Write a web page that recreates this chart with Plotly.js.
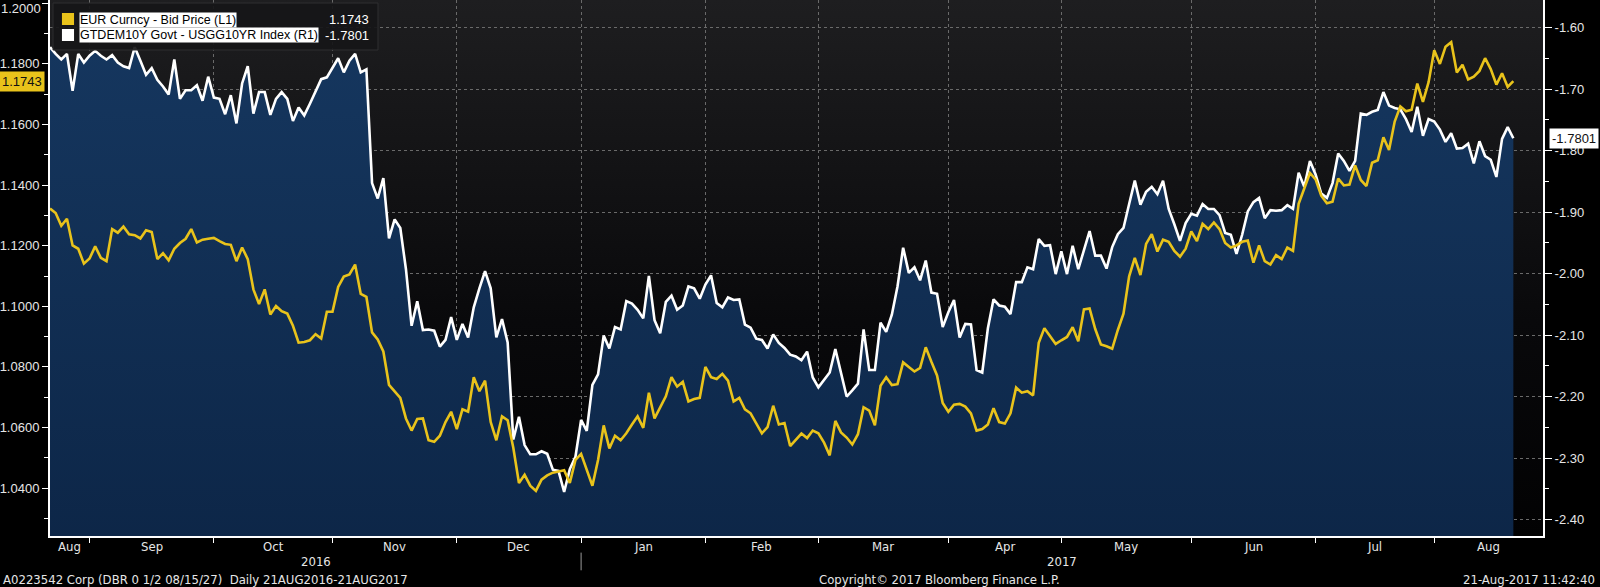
<!DOCTYPE html>
<html>
<head>
<meta charset="utf-8">
<script src="https://cdn.plot.ly/plotly-3.0.1.min.js"></script>
<style>
  html, body { margin: 0; padding: 0; background: #000; }
  #chart { width: 1600px; height: 587px; }
</style>
</head>
<body>
<div id="chart"></div>
<script>
// daily closes, one value per weekday starting 23-Aug-2016
const startDate = "2016-08-23";

const eurUsd = [
  1.1323, 1.1308, 1.1266, 1.1289, 1.1201, 1.1190, 1.1141, 1.1158, 1.1198, 1.1160,
  1.1149, 1.1255, 1.1243, 1.1263, 1.1238, 1.1235, 1.1224, 1.1251, 1.1245, 1.1156,
  1.1175, 1.1152, 1.1190, 1.1209, 1.1223, 1.1255, 1.1211, 1.1220, 1.1223, 1.1226,
  1.1215, 1.1206, 1.1203, 1.1149, 1.1194, 1.1156, 1.1056, 1.1008, 1.1056, 1.0973,
  1.1001, 1.0984, 1.0976, 1.0936, 1.0880, 1.0882, 1.0888, 1.0908, 1.0894, 1.0982,
  1.0982, 1.1064, 1.1098, 1.1105, 1.1138, 1.1041, 1.1031, 1.0914, 1.0891, 1.0851,
  1.0741, 1.0720, 1.0698, 1.0630, 1.0590, 1.0628, 1.0630, 1.0558, 1.0553, 1.0573,
  1.0618, 1.0652, 1.0595, 1.0660, 1.0652, 1.0766, 1.0720, 1.0755, 1.0618, 1.0558,
  1.0637, 1.0624, 1.0533, 1.0417, 1.0444, 1.0408, 1.0391, 1.0428, 1.0442, 1.0451,
  1.0456, 1.0459, 1.0417, 1.0493, 1.0513, 1.0459, 1.0408, 1.0493, 1.0607, 1.0531,
  1.0573, 1.0558, 1.0581, 1.0610, 1.0637, 1.0599, 1.0715, 1.0630, 1.0664, 1.0703,
  1.0766, 1.0735, 1.0751, 1.0686, 1.0694, 1.0698, 1.0800, 1.0766, 1.0760, 1.0777,
  1.0755, 1.0686, 1.0698, 1.0660, 1.0647, 1.0615, 1.0581, 1.0601, 1.0672, 1.0610,
  1.0615, 1.0539, 1.0561, 1.0580, 1.0565, 1.0590, 1.0581, 1.0550, 1.0508, 1.0622,
  1.0584, 1.0567, 1.0544, 1.0578, 1.0667, 1.0656, 1.0607, 1.0738, 1.0766, 1.0740,
  1.0743, 1.0815, 1.0800, 1.0785, 1.0797, 1.0865, 1.0817, 1.0772, 1.0681, 1.0652,
  1.0675, 1.0678, 1.0669, 1.0647, 1.0590, 1.0595, 1.0610, 1.0664, 1.0618, 1.0613,
  1.0647, 1.0732, 1.0715, 1.0720, 1.0706, 1.0880, 1.0928, 1.0902, 1.0876, 1.0888,
  1.0899, 1.0931, 1.0885, 1.0990, 1.0993, 1.0925, 1.0874, 1.0868, 1.0860, 1.0922,
  1.0976, 1.1099, 1.1160, 1.1103, 1.1206, 1.1238, 1.1181, 1.1220, 1.1213, 1.1183,
  1.1164, 1.1190, 1.1247, 1.1215, 1.1272, 1.1255, 1.1277, 1.1255, 1.1209, 1.1194,
  1.1201, 1.1213, 1.1217, 1.1144, 1.1201, 1.1149, 1.1138, 1.1169, 1.1156, 1.1194,
  1.1183, 1.1338, 1.1388, 1.1440, 1.1419, 1.1365, 1.1340, 1.1345, 1.1422, 1.1399,
  1.1402, 1.1465, 1.1417, 1.1397, 1.1474, 1.1482, 1.1558, 1.1516, 1.1610, 1.1660,
  1.1644, 1.1649, 1.1735, 1.1675, 1.1740, 1.1845, 1.1800, 1.1857, 1.1872, 1.1772,
  1.1797, 1.1749, 1.1758, 1.1777, 1.1819, 1.1783, 1.1732, 1.1769, 1.1724, 1.1743
];

const bundUstSpread = [
  -1.632, -1.643, -1.652, -1.643, -1.703, -1.643, -1.657, -1.646, -1.638, -1.646,
  -1.652, -1.645, -1.657, -1.663, -1.666, -1.632, -1.654, -1.677, -1.666, -1.685,
  -1.696, -1.709, -1.652, -1.716, -1.702, -1.702, -1.694, -1.719, -1.680, -1.714,
  -1.716, -1.741, -1.710, -1.756, -1.691, -1.663, -1.740, -1.705, -1.705, -1.742,
  -1.716, -1.705, -1.716, -1.752, -1.730, -1.743, -1.724, -1.705, -1.684, -1.681,
  -1.666, -1.650, -1.673, -1.654, -1.643, -1.673, -1.668, -1.853, -1.878, -1.845,
  -1.943, -1.912, -1.926, -1.993, -2.085, -2.045, -2.092, -2.091, -2.093, -2.119,
  -2.108, -2.071, -2.108, -2.082, -2.104, -2.055, -2.024, -1.996, -2.024, -2.104,
  -2.074, -2.112, -2.270, -2.233, -2.279, -2.294, -2.294, -2.289, -2.293, -2.319,
  -2.321, -2.355, -2.318, -2.298, -2.238, -2.256, -2.181, -2.164, -2.101, -2.122,
  -2.087, -2.091, -2.045, -2.049, -2.059, -2.073, -2.004, -2.076, -2.097, -2.046,
  -2.036, -2.059, -2.052, -2.021, -2.024, -2.041, -2.018, -2.003, -2.048, -2.055,
  -2.039, -2.043, -2.042, -2.083, -2.088, -2.106, -2.108, -2.122, -2.099, -2.113,
  -2.121, -2.132, -2.135, -2.141, -2.127, -2.169, -2.185, -2.172, -2.161, -2.123,
  -2.162, -2.200, -2.190, -2.179, -2.091, -2.157, -2.157, -2.080, -2.095, -2.067,
  -2.021, -1.958, -1.999, -1.990, -2.011, -1.979, -2.031, -2.033, -2.087, -2.063,
  -2.043, -2.104, -2.082, -2.083, -2.157, -2.161, -2.089, -2.042, -2.052, -2.054,
  -2.066, -2.014, -2.014, -1.990, -1.993, -1.944, -1.955, -1.954, -2.001, -1.964,
  -2.001, -1.955, -1.993, -1.962, -1.931, -1.971, -1.971, -1.992, -1.957, -1.936,
  -1.926, -1.887, -1.849, -1.888, -1.867, -1.859, -1.871, -1.849, -1.895, -1.920,
  -1.947, -1.918, -1.903, -1.906, -1.887, -1.895, -1.895, -1.905, -1.934, -1.937,
  -1.968, -1.937, -1.899, -1.884, -1.877, -1.910, -1.897, -1.898, -1.897, -1.889,
  -1.895, -1.836, -1.859, -1.817, -1.839, -1.870, -1.877, -1.853, -1.805, -1.817,
  -1.833, -1.817, -1.740, -1.742, -1.737, -1.734, -1.705, -1.727, -1.731, -1.733,
  -1.749, -1.770, -1.729, -1.776, -1.749, -1.753, -1.766, -1.786, -1.772, -1.797,
  -1.796, -1.789, -1.821, -1.785, -1.809, -1.815, -1.843, -1.781, -1.762, -1.7801
];

const leftTicks = [1.04, 1.06, 1.08, 1.10, 1.12, 1.14, 1.16, 1.18, 1.20];
const rightTicks = [-2.40, -2.30, -2.20, -2.10, -2.00, -1.90, -1.80, -1.70, -1.60];
const monthNames = ["Jan", "Feb", "Mar", "Apr", "May", "Jun", "Jul", "Aug", "Sep", "Oct", "Nov", "Dec"];

const eurName = "EUR Curncy - Bid Price (L1)";
const spreadName = "GTDEM10Y Govt - USGG10YR Index (R1)";
const footLeft = "A0223542 Corp (DBR 0 1/2 08/15/27)  Daily 21AUG2016-21AUG2017";
const footMid = "Copyright\u00a9 2017 Bloomberg Finance L.P.";
const footRight = "21-Aug-2017 11:42:40";

const rangeEnd = 264.25; // a few empty weekdays after the last close

const YELLOW = "#e9c31b";
const NARROW = "'DejaVu Sans Condensed', 'Liberation Sans', sans-serif";
const SANS = "'Liberation Sans', Arial, sans-serif";
const PLOT_H = 536;

function tradingDays(start, n) {
  const out = [];
  const d = new Date(start + "T00:00:00Z");
  while (out.length < n) {
    const wd = d.getUTCDay();
    if (wd !== 0 && wd !== 6) out.push(d.toISOString().slice(0, 10));
    d.setUTCDate(d.getUTCDate() + 1);
  }
  return out;
}

// enough weekdays to cover the empty space at the right edge too
const allDays = tradingDays(startDate, Math.ceil(rangeEnd) + 2);
const dates = allDays.slice(0, eurUsd.length);

// fractional weekday index -> date string
function idxToX(f) {
  const i = Math.floor(f);
  const base = new Date(allDays[i] + "T00:00:00Z").getTime();
  const t = new Date(base + (f - i) * 86400000);
  return t.toISOString().slice(0, 19).replace("T", " ");
}

const monthStarts = [];
for (let i = 1; i < allDays.length; i++) {
  if (i <= rangeEnd && allDays[i].slice(0, 7) !== allDays[i - 1].slice(0, 7)) monthStarts.push(i);
}
const bounds = [0, ...monthStarts, rangeEnd];

const annotations = [];
for (let k = 0; k < bounds.length - 1; k++) {
  const mid = (bounds[k] + bounds[k + 1]) / 2;
  const m = parseInt(allDays[bounds[k]].slice(5, 7), 10) - 1;
  annotations.push({
    x: idxToX(mid), xref: "x", y: -0.019, yref: "paper", yanchor: "middle",
    text: monthNames[m], showarrow: false,
    font: { family: NARROW, size: 13, color: "#e6e6e6" }
  });
}

const janIdx = monthStarts.find((i) => allDays[i].slice(5, 7) === "01");
[[0, janIdx, "2016"], [janIdx, rangeEnd, "2017"]].forEach(([a, b, label]) => {
  annotations.push({
    x: idxToX((a + b) / 2), xref: "x", y: -0.047, yref: "paper", yanchor: "middle",
    text: label, showarrow: false,
    font: { family: NARROW, size: 13, color: "#e6e6e6" }
  });
});

// footer
annotations.push(
  { x: -0.033, xref: "paper", xanchor: "left", y: -0.081, yref: "paper", yanchor: "middle",
    text: footLeft, showarrow: false, font: { family: NARROW, size: 13, color: "#e6e6e6" } },
  { x: 0.514, xref: "paper", xanchor: "left", y: -0.081, yref: "paper", yanchor: "middle",
    text: footMid, showarrow: false, font: { family: NARROW, size: 13, color: "#e6e6e6" } },
  { x: 1.036, xref: "paper", xanchor: "right", y: -0.081, yref: "paper", yanchor: "middle",
    text: footRight, showarrow: false, font: { family: NARROW, size: 13, color: "#e6e6e6" } }
);

// top tick label of the left axis sits just inside the figure edge
annotations.push({
  x: 0, xref: "paper", xanchor: "right", xshift: -7, y: 1 - 8 / PLOT_H, yref: "paper", yanchor: "middle",
  text: leftTicks[leftTicks.length - 1].toFixed(4), showarrow: false,
  font: { family: SANS, size: 13, color: "#e6e6e6" }
});

// legend box texts
const lastEur = eurUsd[eurUsd.length - 1];
const lastSpread = bundUstSpread[bundUstSpread.length - 1];
annotations.push(
  { x: 0.0194, xref: "paper", xanchor: "left", y: 0.9627, yref: "paper", yanchor: "middle",
    text: eurName, showarrow: false, bgcolor: "#ffffff", borderpad: 0,
    font: { family: SANS, size: 12.5, color: "#000000" } },
  { x: 0.0194, xref: "paper", xanchor: "left", y: 0.9347, yref: "paper", yanchor: "middle",
    text: spreadName, showarrow: false, bgcolor: "#ffffff", borderpad: 0,
    font: { family: SANS, size: 12.5, color: "#000000" } },
  { x: 0.215, xref: "paper", xanchor: "right", y: 0.9627, yref: "paper", yanchor: "middle",
    text: lastEur.toFixed(4), showarrow: false,
    font: { family: SANS, size: 13, color: "#ffffff" } },
  { x: 0.215, xref: "paper", xanchor: "right", y: 0.9347, yref: "paper", yanchor: "middle",
    text: lastSpread.toFixed(4), showarrow: false,
    font: { family: SANS, size: 13, color: "#ffffff" } }
);

// last value tags on the axes
annotations.push(
  { x: 0, xref: "paper", xanchor: "right", xshift: -5, y: lastEur, yref: "y2", yanchor: "middle",
    text: lastEur.toFixed(4), showarrow: false, bgcolor: YELLOW, borderpad: 2,
    font: { family: SANS, size: 13, color: "#111" } },
  { x: 1, xref: "paper", xanchor: "left", xshift: 6, y: lastSpread, yref: "y", yanchor: "middle",
    text: lastSpread.toFixed(4), showarrow: false, bgcolor: "#ffffff", borderpad: 2,
    font: { family: SANS, size: 13, color: "#111" } }
);

const shapes = [
  { type: "rect", xref: "paper", yref: "paper", x0: 0.002, x1: 0.2197, y0: 0.9067, y1: 0.9944,
    fillcolor: "rgba(22,22,24,0.92)", line: { color: "#2e2e30", width: 1 } },
  { type: "rect", xref: "paper", yref: "paper", x0: 0.0080, x1: 0.0161, y0: 0.9534, y1: 0.9757,
    fillcolor: YELLOW, line: { width: 0 } },
  { type: "rect", xref: "paper", yref: "paper", x0: 0.0080, x1: 0.0161, y0: 0.9235, y1: 0.9459,
    fillcolor: "#ffffff", line: { width: 0 } },
  { type: "line", xref: "x", yref: "paper", x0: allDays[janIdx], x1: allDays[janIdx],
    y0: -0.031, y1: -0.064, line: { color: "#9a9a9a", width: 1 } }
];

// dark grey to black backdrop behind the plot
const bgSvg =
  "<svg xmlns='http://www.w3.org/2000/svg' width='10' height='100' preserveAspectRatio='none'>" +
  "<defs><linearGradient id='g' x1='0' y1='0' x2='0' y2='1'>" +
  "<stop offset='0' stop-color='#1e1e20'/><stop offset='0.6' stop-color='#09090b'/>" +
  "<stop offset='1' stop-color='#020203'/></linearGradient></defs>" +
  "<rect width='10' height='100' fill='url(#g)'/></svg>";

const floorTrace = {
  x: dates, y: dates.map(() => -3), yaxis: "y",
  mode: "lines", line: { width: 0 }, hoverinfo: "skip", showlegend: false
};

const spreadTrace = {
  x: dates, y: bundUstSpread, yaxis: "y", name: spreadName,
  mode: "lines", line: { color: "#ffffff", width: 2.6 },
  fill: "tonexty",
  fillgradient: { type: "vertical", colorscale: [[0, "#071b38"], [1, "#15365e"]] },
  showlegend: false
};

const eurTrace = {
  x: dates, y: eurUsd, yaxis: "y2", name: eurName,
  mode: "lines", line: { color: YELLOW, width: 2.6 },
  showlegend: false
};

const layout = {
  width: 1600, height: 587,
  margin: { l: 50, r: 57, t: 0, b: 51 },
  paper_bgcolor: "#000000",
  plot_bgcolor: "#0c0c0e",
  showlegend: false,
  images: [{
    source: "data:image/svg+xml;charset=utf-8," + encodeURIComponent(bgSvg),
    xref: "paper", yref: "paper", x: 0, y: 1, sizex: 1, sizey: 1,
    xanchor: "left", yanchor: "top", sizing: "stretch", layer: "below"
  }],
  xaxis: {
    type: "date",
    range: [startDate, idxToX(rangeEnd)],
    rangebreaks: [{ bounds: ["sat", "mon"] }],
    tickvals: monthStarts.map((i) => allDays[i]),
    showticklabels: false,
    ticks: "outside", ticklen: 5, tickcolor: "#ffffff",
    showgrid: true, gridcolor: "#6a6a6a", griddash: "dot", gridwidth: 1,
    showline: true, linecolor: "#ffffff", linewidth: 2,
    zeroline: false
  },
  yaxis: {
    side: "right",
    range: [-2.4268, -1.5553],
    tickvals: rightTicks,
    ticktext: rightTicks.map((v) => v.toFixed(2)),
    tickfont: { family: SANS, size: 13, color: "#e6e6e6" },
    ticks: "outside", ticklen: 7, tickcolor: "#ffffff",
    minor: { tickvals: rightTicks.slice(0, -1).map((v) => v + 0.05), ticks: "outside", ticklen: 4, tickcolor: "#ffffff", showgrid: false },
    showgrid: true, gridcolor: "#6a6a6a", griddash: "dot", gridwidth: 1,
    showline: true, linecolor: "#ffffff", linewidth: 2,
    zeroline: false
  },
  yaxis2: {
    side: "left", overlaying: "y",
    range: [1.0242, 1.2011],
    tickvals: leftTicks,
    ticktext: leftTicks.map((v) => v.toFixed(4)),
    tickfont: { family: SANS, size: 13, color: "#e6e6e6" },
    ticks: "outside", ticklen: 6, tickcolor: "#ffffff",
    minor: { tickvals: leftTicks.map((v) => v - 0.01), ticks: "outside", ticklen: 4, tickcolor: "#ffffff", showgrid: false },
    showgrid: false,
    showline: true, linecolor: "#ffffff", linewidth: 2,
    zeroline: false
  },
  annotations: annotations,
  shapes: shapes
};

Plotly.newPlot("chart", [floorTrace, spreadTrace, eurTrace], layout, { displayModeBar: false, staticPlot: true });
</script>
</body>
</html>
